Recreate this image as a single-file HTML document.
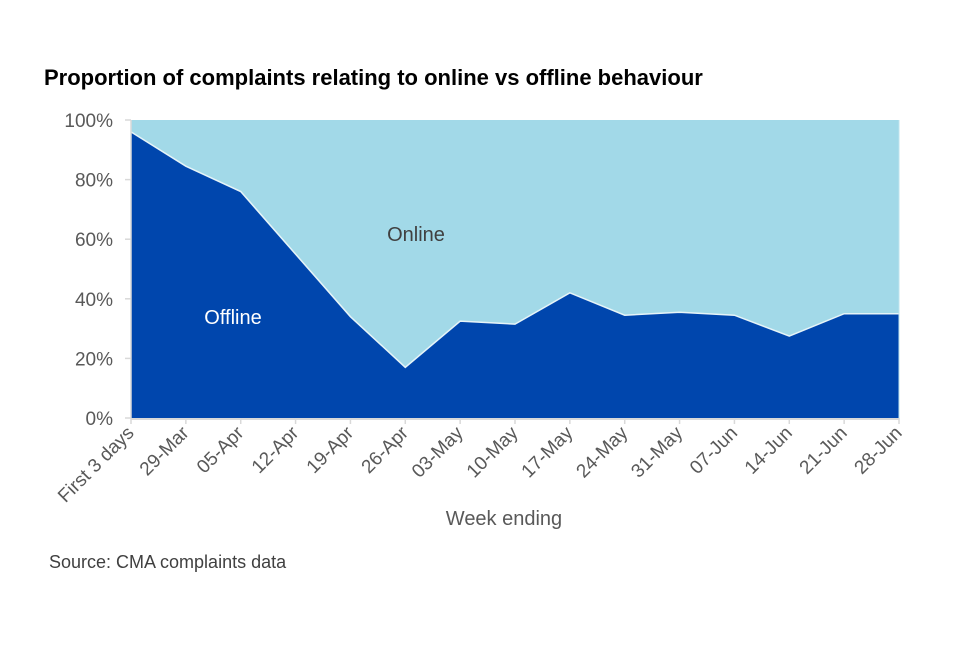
<!DOCTYPE html>
<html><head><meta charset="utf-8"><style>
body{margin:0;background:#fff;width:960px;height:640px;overflow:hidden;font-family:"Liberation Sans",sans-serif}
</style></head><body>
<svg width="960" height="640">
<text x="44" y="85" font-size="22" font-weight="bold" fill="#000">Proportion of complaints relating to online vs offline behaviour</text>
<g id="plot"></g>
<text x="504" y="525" font-size="20" fill="#595959" text-anchor="middle">Week ending</text>
<text x="49" y="568" font-size="18" fill="#404040">Source: CMA complaints data</text>
</svg>
<script>
const categories=["First 3 days","29-Mar","05-Apr","12-Apr","19-Apr","26-Apr","03-May","10-May","17-May","24-May","31-May","07-Jun","14-Jun","21-Jun","28-Jun"];
const offline=[96,84.5,76,55,34,17,32.5,31.5,42,34.5,35.5,34.5,27.5,35,35];
const yTicks=[0,20,40,60,80,100];
const X0=131,X1=899,Y0=418,Y1=120;
const x=i=>X0+(X1-X0)*i/(categories.length-1);
const y=v=>Y0-(Y0-Y1)*v/100;
const NS="http://www.w3.org/2000/svg";
const g=document.getElementById('plot');
function mk(t,a){const e=document.createElementNS(NS,t);for(const k in a)e.setAttribute(k,a[k]);g.appendChild(e);return e;}
const on=mk('rect',{x:X0,y:Y1,width:X1-X0,height:Y0-Y1,fill:'#a2d9e8'});


let d='M'+X0+','+Y0+' '+offline.map((v,i)=>'L'+x(i)+','+y(v)).join(' ')+' L'+X1+','+Y0+'Z';
const off=mk('path',{d:d,fill:'#0046ad'});


const ln=mk('polyline',{points:offline.map((v,i)=>x(i)+','+y(v)).join(' '),fill:'none',stroke:'#e6f4f8','stroke-width':1.5});


mk('line',{x1:X1,y1:Y1,x2:X1,y2:Y0,stroke:'#bfe4ee','stroke-width':1});
mk('line',{x1:X0,y1:Y1,x2:X0,y2:Y0,stroke:'#d9d9d9','stroke-width':1.5});
mk('line',{x1:X0,y1:Y0+1,x2:X1,y2:Y0+1,stroke:'#d9d9d9','stroke-width':2});
yTicks.forEach(v=>{
  mk('line',{x1:X0-6,y1:y(v),x2:X0,y2:y(v),stroke:'#d9d9d9','stroke-width':1.5});
  const t=mk('text',{x:X0-18,y:y(v)+7,'font-size':19,fill:'#595959','text-anchor':'end'});
  t.textContent=v+'%';
  
  
});
categories.forEach((c,i)=>{
  mk('line',{x1:x(i),y1:Y0,x2:x(i),y2:Y0+6,stroke:'#d9d9d9','stroke-width':1.5});
  const t=mk('text',{x:x(i)+4,y:Y0+16,'font-size':19,fill:'#595959','text-anchor':'end',transform:`rotate(-45 ${x(i)+4} ${Y0+16})`});
  t.textContent=c;
  
  
});
const l1=mk('text',{x:233,y:324,'font-size':20,fill:'#fff','text-anchor':'middle'});l1.textContent='Offline';


const l2=mk('text',{x:416,y:241,'font-size':20,fill:'#404040','text-anchor':'middle'});l2.textContent='Online';


</script>
</body></html>
